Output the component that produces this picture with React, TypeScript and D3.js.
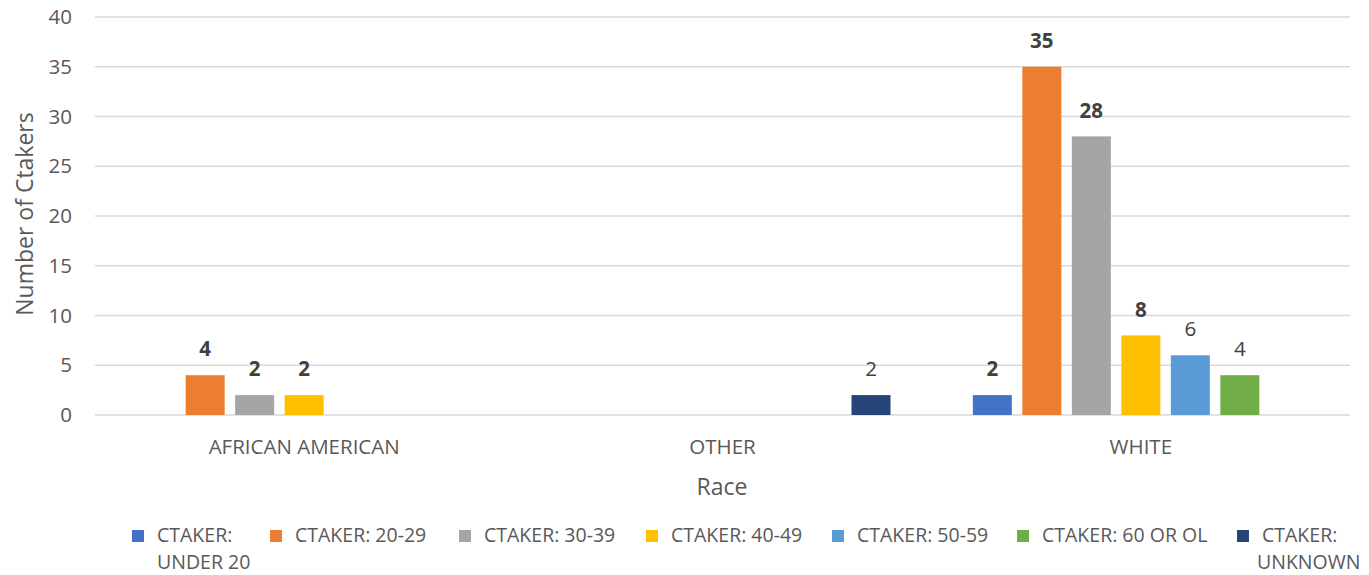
import React from "react";
import * as d3 from "d3";

const categories = ["AFRICAN AMERICAN", "OTHER", "WHITE"];
const seriesNames = [
  "CTAKER: UNDER 20",
  "CTAKER: 20-29",
  "CTAKER: 30-39",
  "CTAKER: 40-49",
  "CTAKER: 50-59",
  "CTAKER: 60 OR OL",
  "CTAKER: UNKNOWN",
];
const under20 = [0, 0, 2];
const age20to29 = [4, 0, 35];
const age30to39 = [2, 0, 28];
const age40to49 = [2, 0, 8];
const age50to59 = [0, 0, 6];
const age60orOl = [0, 0, 4];
const unknown = [0, 2, 0];
const seriesValues = [under20, age20to29, age30to39, age40to49, age50to59, age60orOl, unknown];
const colors = ["#4472C4", "#ED7D31", "#A5A5A5", "#FFC000", "#5B9BD5", "#70AD47", "#264478"];
const boldLabels = [true, true, true, true, false, false, false];
const yTicks = [0, 5, 10, 15, 20, 25, 30, 35, 40];

const FONT = "'Open Sans', sans-serif";

export default function App() {
  const W = 1369, H = 575;
  const left = 95, right = 1350, top = 17, bottom = 415;
  const y = d3.scaleLinear().domain([0, 40]).range([bottom, top]);
  const p = 0.1717;
  const x0 = d3.scaleBand<string>().domain(categories).range([left, right]).paddingInner(p).paddingOuter(p / 2);
  const x1 = d3.scaleBand<string>().domain(seriesNames).range([0, x0.bandwidth()]).paddingInner(0.212).paddingOuter(0.106);

  const legendX = [132, 270, 459, 646, 832, 1017, 1237];
  const legendSplit = [true, false, false, false, false, false, true];
  const fs = 20.5;
  const lfs = 19.5;

  return (
    <svg width={W} height={H} style={{ position: "absolute", left: 0, top: 0, background: "#fff" }} fontFamily={FONT}>
      {yTicks.map((t) => (
        <g key={t}>
          <line x1={left} x2={right} y1={y(t)} y2={y(t)} stroke="#D9D9D9" strokeWidth={1.3} />
          <text x={72} y={y(t)} dy="0.35em" textAnchor="end" fontSize={fs} fill="#595959">{t}</text>
        </g>
      ))}
      {seriesNames.map((s, si) =>
        categories.map((c, ci) => {
          const v = seriesValues[si][ci];
          if (!v) return null;
          const bx = (x0(c) ?? 0) + (x1(s) ?? 0);
          return (
            <g key={s + c}>
              <rect x={bx} y={y(v)} width={x1.bandwidth()} height={y(0) - y(v)} fill={colors[si]} />
              <text x={bx + x1.bandwidth() / 2} y={y(v) - 26} dy="0.35em" textAnchor="middle" fontSize={fs}
                fontWeight={boldLabels[si] ? "bold" : "normal"} fill="#404040">{v}</text>
            </g>
          );
        })
      )}
      {categories.map((c) => (
        <text key={c} x={(x0(c) ?? 0) + x0.bandwidth() / 2} y={447} dy="0.35em" textAnchor="middle" fontSize={fs} fill="#595959">{c}</text>
      ))}
      <text x={722} y={487} dy="0.35em" textAnchor="middle" fontSize={23} fill="#595959">Race</text>
      <text transform={`translate(25,214) rotate(-90)`} dy="0.35em" textAnchor="middle" fontSize={23} fill="#595959">Number of Ctakers</text>
      {seriesNames.map((s, si) => {
        const lx = legendX[si];
        const parts = legendSplit[si] ? [s.slice(0, 7), s.slice(8)] : [s];
        return (
          <g key={s}>
            <rect x={lx} y={530} width={12} height={12} fill={colors[si]} />
            <text x={lx + 25} y={535} dy="0.35em" fontSize={lfs} fill="#595959">{parts[0]}</text>
            {parts[1] && (
              <text x={lx + 25 + (si === 6 ? -5 : 0)} y={562} dy="0.35em" fontSize={lfs} fill="#595959">{parts[1]}</text>
            )}
          </g>
        );
      })}
    </svg>
  );
}
